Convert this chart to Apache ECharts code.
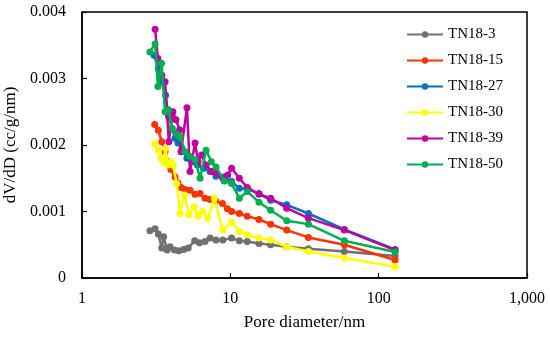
<!DOCTYPE html>
<html><head><meta charset="utf-8">
<script src="https://cdn.jsdelivr.net/npm/echarts@6/dist/echarts.min.js"></script>
<style>html,body{margin:0;padding:0;background:#fff}#c{width:550px;height:337px}</style>
</head><body><div id="c"></div>
<script>
const seriesNames = ['TN18-3','TN18-15','TN18-27','TN18-30','TN18-39','TN18-50'];
const seriesColors = ['#707070','#ff3300','#0070c0','#ffff00','#c000a0','#00b050'];
const xTickLabels = ['1','10','100','1,000'];
const yTickLabels = ['0','0.001','0.002','0.003','0.004'];

const tn18_3 = [[2.87,0.00071],[3.11,0.00074],[3.27,0.00066],[3.45,0.00045],[3.55,0.00062],[3.75,0.00042],[3.92,0.00047],[4.2,0.00042],[4.5,0.00041],[4.85,0.00043],[5.2,0.00045],[5.75,0.00056],[6.2,0.00053],[6.75,0.00055],[7.3,0.0006],[8.0,0.00057],[8.9,0.00057],[10.2,0.0006],[11.5,0.00056],[13.0,0.00055],[15.6,0.00052],[18.7,0.0005],[24.0,0.00047],[33.6,0.00044],[58.7,0.0004],[129,0.00033]];
const tn18_15 = [[3.09,0.00231],[3.27,0.00222],[3.45,0.00205],[3.63,0.0019],[3.8,0.00175],[3.97,0.00163],[4.24,0.00152],[4.44,0.00143],[4.65,0.00136],[4.95,0.00133],[5.35,0.00132],[5.78,0.00126],[6.25,0.00127],[6.75,0.0012],[7.3,0.00118],[7.95,0.00116],[8.85,0.00112],[9.55,0.00104],[10.2,0.001],[11.5,0.00097],[13.0,0.00093],[15.6,0.00088],[18.7,0.00081],[24.0,0.00072],[33.6,0.00061],[58.7,0.0005],[129,0.00027]];
const tn18_27 = [[3.06,0.00335],[3.27,0.00315],[3.46,0.00295],[3.66,0.00275],[3.83,0.00243],[4.05,0.00225],[4.24,0.0021],[4.44,0.00203],[4.72,0.00195],[5.1,0.0018],[5.5,0.00175],[6.0,0.0017],[6.6,0.00165],[7.3,0.0016],[8.0,0.00153],[9.0,0.00152],[10.2,0.00145],[11.5,0.00135],[13.0,0.00134],[15.6,0.00127],[18.7,0.00117],[24.0,0.0011],[33.6,0.00097],[58.7,0.00073],[129,0.00043]];
const tn18_30 = [[3.09,0.00202],[3.27,0.00192],[3.4,0.0018],[3.55,0.00175],[3.65,0.00195],[3.8,0.0017],[3.97,0.00175],[4.1,0.0017],[4.35,0.00142],[4.58,0.00097],[4.9,0.00125],[5.25,0.00095],[5.7,0.00107],[6.06,0.00093],[6.5,0.001],[7.05,0.0009],[7.8,0.0012],[8.9,0.00072],[10.2,0.00084],[11.5,0.0007],[13.0,0.00065],[15.6,0.0006],[18.7,0.00057],[24.0,0.00047],[33.6,0.0004],[58.7,0.0003],[129,0.00017]];
const tn18_39 = [[3.11,0.00374],[3.25,0.0033],[3.45,0.00305],[3.63,0.00295],[3.85,0.00205],[4.1,0.0025],[4.3,0.00238],[4.55,0.00223],[4.65,0.0019],[5.1,0.00256],[5.35,0.0016],[5.78,0.00203],[6.06,0.00175],[6.4,0.00185],[6.86,0.0017],[7.5,0.0016],[8.0,0.00158],[8.9,0.0015],[9.6,0.00155],[10.2,0.00165],[11.5,0.0015],[13.0,0.00136],[15.6,0.00126],[18.7,0.0012],[24.0,0.00105],[33.6,0.0009],[58.7,0.00072],[129,0.00042]];
const tn18_50 = [[2.87,0.0034],[3.11,0.00352],[3.25,0.00288],[3.44,0.00323],[3.63,0.0025],[3.83,0.00253],[4.05,0.00225],[4.35,0.00217],[4.58,0.00212],[4.95,0.0019],[5.35,0.00183],[5.78,0.00178],[6.25,0.0015],[6.86,0.00192],[7.45,0.00175],[8.0,0.00167],[9.1,0.00146],[10.2,0.00142],[11.5,0.0012],[13.0,0.0013],[15.6,0.00114],[18.7,0.00102],[24.0,0.00086],[33.6,0.00081],[58.7,0.00056],[129,0.00039]];

const allData = [tn18_3, tn18_15, tn18_27, tn18_30, tn18_39, tn18_50];
const font = 'Liberation Serif';
const chart = echarts.init(document.getElementById('c'), null, {renderer:'canvas'});
chart.setOption({
  animation:false,
  backgroundColor:'#fff',
  grid:{left:82,right:23,top:12,bottom:59,containLabel:false,outerBoundsMode:'none',show:true,borderColor:'#000',borderWidth:1.5,backgroundColor:'transparent'},
  legend:{
    data:seriesNames, orient:'vertical', left:401, top:22, itemWidth:36, itemHeight:8, itemGap:11,
    textStyle:{fontFamily:font,fontSize:15,color:'#000'}
  },
  xAxis:{
    type:'log', logBase:10, min:1, max:1000,
    name:'Pore diameter/nm', nameLocation:'middle', nameGap:36,
    nameTextStyle:{fontFamily:font,fontSize:17,color:'#000'},
    axisLine:{lineStyle:{color:'#000',width:1.5}},
    axisTick:{inside:true,length:5,lineStyle:{color:'#000',width:1.2}},
    splitLine:{show:false}, minorTick:{show:false},
    axisLabel:{fontFamily:font,fontSize:16,color:'#000',margin:13,
      formatter:function(v){const i=Math.round(Math.log10(v));return xTickLabels[i]!==undefined?xTickLabels[i]:'';}}
  },
  yAxis:{
    type:'value', min:0, max:0.004, interval:0.001,
    name:'dV/dD (cc/g/nm)', nameLocation:'middle', nameGap:55,
    nameTextStyle:{fontFamily:font,fontSize:17,color:'#000'},
    axisLine:{show:true,lineStyle:{color:'#000',width:1.5}},
    axisTick:{show:true,inside:true,length:5,lineStyle:{color:'#000',width:1.2}},
    splitLine:{show:false},
    axisLabel:{fontFamily:font,fontSize:16,color:'#000',margin:16,
      formatter:function(v){const i=Math.round(v/0.001);return yTickLabels[i];}}
  },
  series: seriesNames.map((n,i)=>({
    name:n, type:'line', data:allData[i], symbol:'circle', symbolSize:7, showSymbol:true,
    lineStyle:{width:2.5,color:seriesColors[i]}, itemStyle:{color:seriesColors[i]}, z:2+i
  }))
});
</script></body></html>
